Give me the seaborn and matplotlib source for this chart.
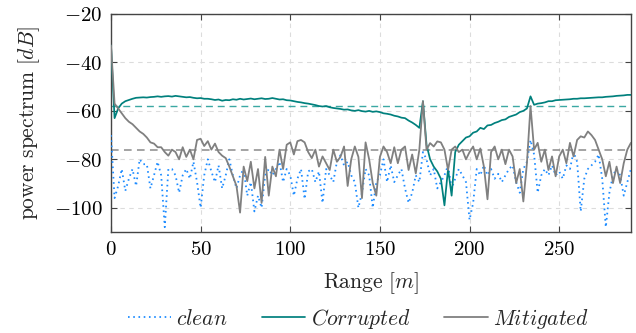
import numpy as np
import pandas as pd
import matplotlib
matplotlib.use("Agg")
import matplotlib.pyplot as plt
import seaborn as sns

# ---- data (range step 2 m) ----
clean = [
    -70, -96, -91, -84, -93, -88, -84, -91, -80, -82,
    -82, -92, -86.6, -81, -86.6, -108, -84, -84, -86.6, -93.8,
    -86.6, -84, -88, -81, -89.4, -100, -86.6, -80, -85, -89.4,
    -82.5, -92, -86.6, -80, -86.6, -92, -86.6, -84, -95, -89.4,
    -101.5, -95, -100, -86.6, -84, -86.6, -84, -81, -89.4, -84,
    -86.6, -95, -88, -84, -96.4, -85, -84, -89.4, -85, -98,
    -84, -86.6, -89.4, -81, -78.3, -82.5, -81, -86.6, -89.4, -100,
    -93.8, -84, -86.6, -100, -89.4, -86.6, -80, -89.4, -82.5, -89.4,
    -86.6, -84, -92, -98, -93.8, -86.6, -89.4, -77, -80, -86.6,
    -84, -92, -89.4, -86.6, -82.5, -92, -88, -84, -86.6, -89.4,
    -105, -98, -84, -86.6, -82.5, -86.6, -84, -88, -86, -89.4,
    -86.6, -84, -82.5, -89.4, -93.8, -84, -81, -72, -78, -93.8,
    -86.6, -84, -86.6, -82.5, -86.6, -85, -88, -82.5, -84, -77,
    -81, -101.5, -88, -84, -82.5, -81, -78, -88, -108, -93.8,
    -86.6, -84, -86.6, -95, -89.4, -84,
]
corrupted = [
    -33, -63, -59, -57, -56, -55.5, -55, -54.6, -54.5, -54.4,
    -54.5, -54.3, -54.2, -54.0, -54.2, -54.0, -53.9, -54.1, -53.8, -54.0,
    -54.2, -54.4, -54.3, -54.6, -54.8, -54.7, -55.0, -55.0, -55.2, -55.5,
    -55.3, -55.8, -55.5, -55.6, -55.2, -55.4, -55.0, -55.3, -55.1, -54.9,
    -55.2, -55.0, -54.8, -55.1, -55.0, -54.7, -55.0, -55.3, -55.2, -55.6,
    -55.7, -56.0, -56.3, -56.5, -56.8, -57.0, -57.3, -57.6, -58.0, -58.2,
    -58.0, -58.5, -58.8, -59.0, -59.2, -59.5, -59.4, -59.8, -60.0, -59.7,
    -60.1, -60.3, -60.0, -60.4, -60.2, -60.5, -61.0, -61.2, -61.5, -62.0,
    -62.3, -62.8, -63.0, -64.0, -64.8, -65.8, -67.0, -56.0, -74.0, -80.0,
    -83.0, -85.0, -88.0, -99.0, -84.0, -95.0, -77.0, -74.0, -72.5, -71.0,
    -70.5, -69.0, -68.5, -67.0, -67.5, -66.0, -65.8, -65.0, -64.5, -63.8,
    -63.5, -62.5, -62.0, -61.5, -60.5, -60.0, -59.0, -54.0, -57.5, -57.0,
    -56.8, -56.5, -56.0, -56.0, -55.6, -55.5, -55.4, -55.3, -55.2, -55.0,
    -55.0, -54.8, -54.8, -54.7, -54.6, -54.5, -54.4, -54.4, -54.2, -54.1,
    -54.0, -53.8, -53.7, -53.6, -53.4, -53.4,
]
mitigated = [
    -33, -57, -59, -61, -63, -64.5, -65.5, -67, -68.5, -69.5,
    -71, -73, -73.5, -75, -75, -77, -78.5, -76, -77, -80,
    -75, -79, -76, -80, -72, -71.5, -74.5, -72.5, -76, -73.5,
    -77, -78.5, -79.5, -83, -87, -91, -102, -83, -89, -81,
    -92, -84, -98, -79, -95, -83, -87, -76, -84, -74,
    -73, -78, -72.5, -72, -73, -77, -79.5, -76, -83, -78.8,
    -81.6, -84.4, -76, -81, -79, -74.7, -91, -80, -74.7, -79,
    -96, -73, -80, -89.8, -95, -79, -74.7, -77, -81.6, -75,
    -81.6, -76, -74.7, -84.4, -78, -85.8, -76, -56, -76, -73.3,
    -74.7, -72.6, -73, -76, -84.4, -76, -74.7, -77, -76, -80,
    -77, -74.7, -80, -75.5, -83, -96.5, -77, -74.7, -80, -76,
    -82, -76, -78.8, -89.8, -84, -97.4, -81.6, -58, -76, -73.2,
    -81, -76, -84.4, -78.8, -87, -78.8, -76, -81.6, -73.2, -78.8,
    -72, -70.5, -71, -68.5, -70, -72, -76, -80, -87, -81,
    -89.8, -83, -89.8, -81.6, -76, -73.2,
]
range_m = np.arange(len(corrupted)) * 2.0
corrupted_level = -58
mitigated_level = -76

x_ticks = [0, 50, 100, 150, 200, 250]
y_ticks = [-100, -80, -60, -40, -20]
x_tick_labels = ["$0$", "$50$", "$100$", "$150$", "$200$", "$250$"]
y_tick_labels = ["$-100$", "$-80$", "$-60$", "$-40$", "$-20$"]

# ---- style ----
sns.set_theme(style="ticks")
plt.rcParams["font.family"] = ["DejaVu Serif"]
plt.rcParams["mathtext.fontset"] = "cm"

c_clean = "#1E8CFF"
c_corr = "#00807D"
c_mit = "#808080"

fig = plt.figure(figsize=(6.36, 3.33), dpi=100)
ax = fig.add_axes([0.1745, 0.3033, 0.8175, 0.6547])

df = pd.DataFrame({"range": range_m, "clean": clean,
                   "corrupted": corrupted, "mitigated": mitigated})

ax.axhline(corrupted_level, color="#3BA8A3", lw=1.0, dashes=(5, 3.5), zorder=1)
ax.axhline(mitigated_level, color="#8a8a8a", lw=1.1, dashes=(5, 3.5), zorder=1)

sns.lineplot(data=df, x="range", y="clean", ax=ax, color=c_clean, lw=1.3,
             label="$clean$", zorder=3)
ax.lines[-1].set_dashes((0.9, 2.0))
sns.lineplot(data=df, x="range", y="corrupted", ax=ax, color=c_corr, lw=1.25,
             label="$Corrupted$", zorder=4)
sns.lineplot(data=df, x="range", y="mitigated", ax=ax, color=c_mit, lw=1.3,
             label="$Mitigated$", zorder=5)

ax.set_xlim(0, 290)
ax.set_ylim(-110, -20)
ax.set_xticks(x_ticks)
ax.set_xticklabels(x_tick_labels)
ax.set_yticks(y_ticks)
ax.set_yticklabels(y_tick_labels)
ax.tick_params(direction="in", length=4, width=0.8, colors="#444444",
               labelcolor="black", labelsize=15, top=True, right=True)
ax.tick_params(axis="x", pad=6)
ax.tick_params(axis="y", pad=6)
ax.grid(True, color="#dcdcdc", lw=0.8, dashes=(4, 4))
ax.set_axisbelow(True)
for s in ax.spines.values():
    s.set_color("#444444")
    s.set_linewidth(1.0)

ax.set_xlabel(r"$\mathrm{Range}\ [m]$", fontsize=15.5, labelpad=8)
ax.set_ylabel(r"$\mathrm{power\ spectrum}\ [dB]$", fontsize=15.5, labelpad=9)

leg = ax.legend(loc="center", bbox_to_anchor=(0.476, -0.397), ncol=3,
                frameon=False, fontsize=15.5, handlelength=2.0,
                handletextpad=0.25, columnspacing=1.6)

fig.savefig("out.png", dpi=100)
